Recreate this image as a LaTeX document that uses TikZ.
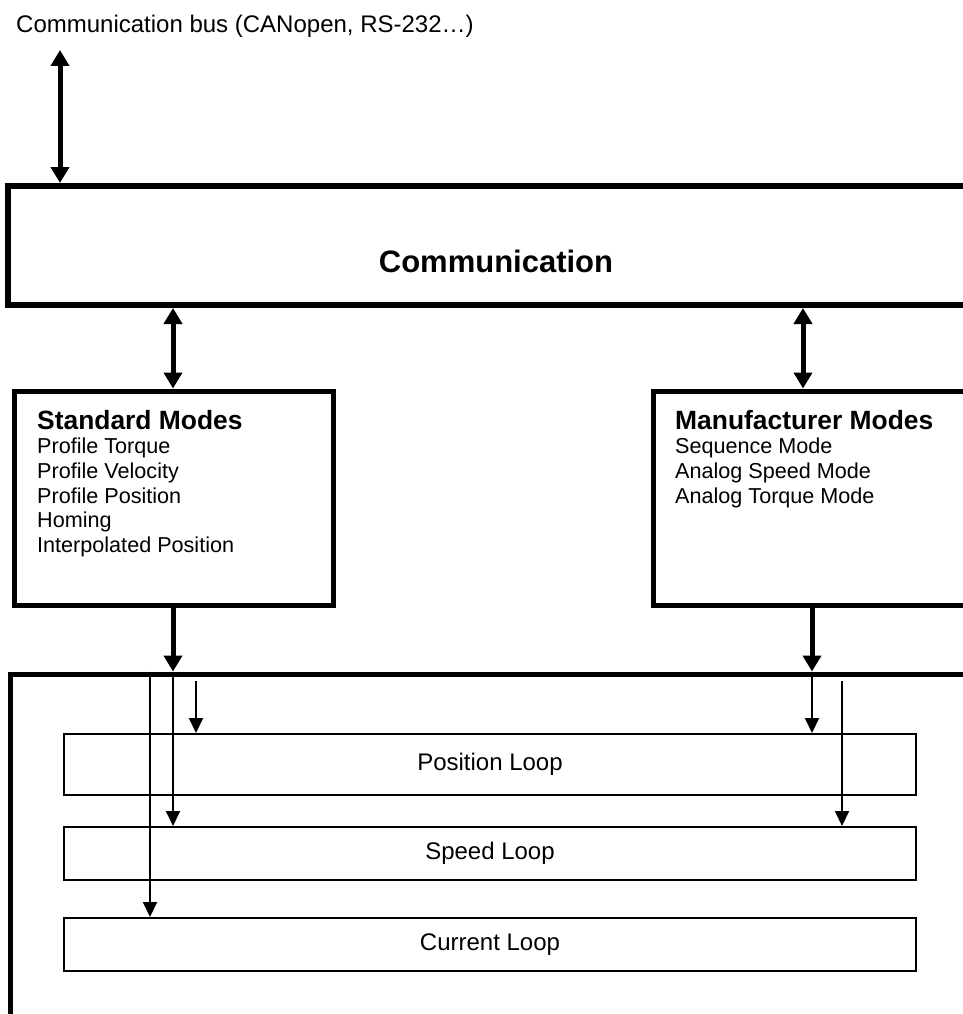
\documentclass[tikz,border=0pt]{standalone}
\usepackage{fontspec}
\setmainfont{Liberation Sans}
\usetikzlibrary{arrows.meta}
\begin{document}
\begin{tikzpicture}[x=1pt,y=-1pt,
  bigarrow/.style={line width=5pt, -{Triangle[width=18pt,length=16pt]}},
  bigboth/.style={line width=5pt, {Triangle[width=18pt,length=16pt]}-{Triangle[width=18pt,length=16pt]}},
  thinarrow/.style={line width=2pt, -{Triangle[width=14pt,length=15pt]}},
  heavybox/.style={draw, line width=6pt, inner sep=0pt, rectangle},
  modebox/.style={draw, line width=5pt, inner sep=0pt, rectangle},
  loopbox/.style={draw, line width=2pt, inner sep=0pt, rectangle, minimum width=852pt, font=\fontsize{24}{28}\selectfont},
  listtext/.style={anchor=north west, inner sep=0pt, align=left, font=\fontsize{21.6}{24.6}\selectfont},
  headtext/.style={font=\fontsize{26.4}{26}\selectfont\bfseries}
]
\useasboundingbox (0,0) rectangle (962,1014);

% title
\node[anchor=base west, inner sep=0pt, font=\fontsize{24}{28}\selectfont] (bus) at (16,33) {Communication bus (CANopen, RS-232…)};

% boxes
\node[heavybox, minimum width=974pt, minimum height=119pt] (comm) at (495,245.5) {};
\node[anchor=base, inner sep=0pt, font=\fontsize{31}{36}\selectfont\bfseries] (commlabel) at (496,272) {Communication};

\node[modebox, minimum width=319pt, minimum height=214pt] (std) at (173.5,498) {};
\node[modebox, minimum width=400pt, minimum height=214pt] (man) at (853,498) {};

\node[listtext] (stdtext) at (37,410) {{\fontsize{26.4}{26}\selectfont\bfseries Standard Modes}\\Profile Torque\\Profile Velocity\\Profile Position\\Homing\\Interpolated Position};
\node[listtext] (mantext) at (675,410) {{\fontsize{26.4}{26}\selectfont\bfseries Manufacturer Modes}\\Sequence Mode\\Analog Speed Mode\\Analog Torque Mode};

\node[modebox, minimum width=1000pt, minimum height=400pt] (big) at (510,874) {};

\node[loopbox, minimum height=61pt] (pos) at (490,764.5) {Position Loop};
\node[loopbox, minimum height=53pt] (speed) at (490,853.5) {Speed Loop};
\node[loopbox, minimum height=53pt] (current) at (490,944.5) {Current Loop};

% coordinates
\coordinate (busend) at (60,50);
\coordinate (ls) at (173,0);
\coordinate (rs) at (803,0);
\coordinate (rd) at (812,0);
\coordinate (c1) at (150,0);
\coordinate (p1) at (196,681);
\coordinate (p2) at (842,681);

% thick arrows
\draw[bigboth] (busend) -- (busend |- comm.north);
\draw[bigboth] (ls |- comm.south) -- (ls |- std.north);
\draw[bigboth] (rs |- comm.south) -- (rs |- man.north);
\draw[bigarrow] (ls |- std.south) -- (ls |- big.north);
\draw[bigarrow] (rd |- man.south) -- (rd |- big.north);

% thin arrows
\draw[thinarrow] (c1 |- big.north) -- (c1 |- current.north);
\draw[thinarrow] (ls |- big.north) -- (ls |- speed.north);
\draw[thinarrow] (p1) -- (p1 |- pos.north);
\draw[thinarrow] (rd |- big.north) -- (rd |- pos.north);
\draw[thinarrow] (p2) -- (p2 |- speed.north);
\end{tikzpicture}
\end{document}
